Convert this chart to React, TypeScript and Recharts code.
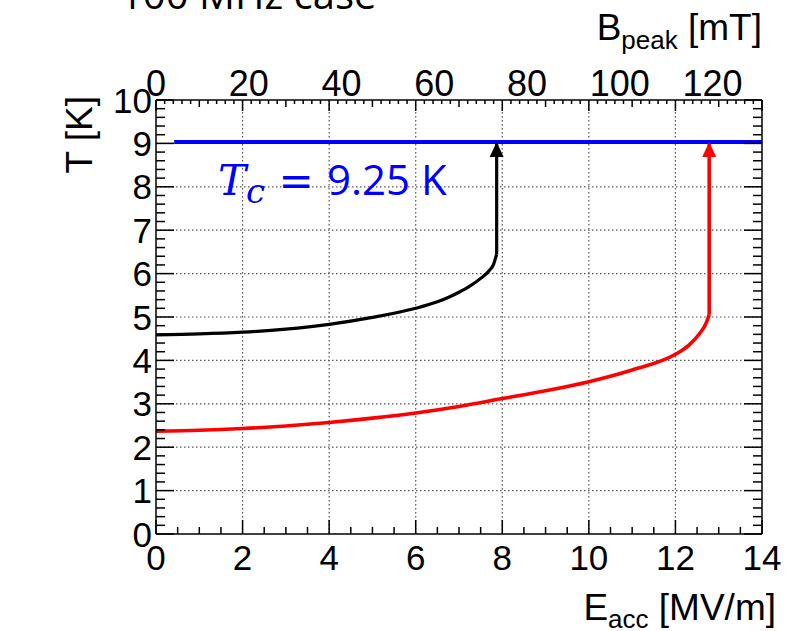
import React from "react";
import { LineChart, Line, XAxis, YAxis, CartesianGrid } from "recharts";

// ---- data ----
const blackE = [0, 1, 2, 3, 4, 5, 6, 6.5, 6.75, 7, 7.25, 7.5, 7.7, 7.8, 7.87];
const blackT = [4.59, 4.61, 4.65, 4.72, 4.83, 4.99, 5.2, 5.35, 5.45, 5.57, 5.71, 5.89, 6.07, 6.22, 6.45];
const blackArrowE = [7.87, 7.87];
const blackArrowT = [6.45, 9.03];

const redE = [0, 1, 2, 3, 4, 5, 6, 7, 8, 9, 10, 11, 12, 12.3, 12.56, 12.7, 12.78];
const redT = [2.37, 2.39, 2.43, 2.49, 2.57, 2.67, 2.79, 2.94, 3.12, 3.3, 3.51, 3.78, 4.14, 4.34, 4.62, 4.84, 5.05];
const redArrowE = [12.78, 12.78];
const redArrowT = [5.05, 9.03];

const tcE = [0.42, 14];
const tcT = [9.03, 9.03];

const bRange = [0, 140];

const eMajorTicks = [0, 2, 4, 6, 8, 10, 12, 14];
const bMajorTicks = [0, 20, 40, 60, 80, 100, 120];
const tMajorTicks = [0, 1, 2, 3, 4, 5, 6, 7, 8, 9, 10];
const gridE = [2, 4, 6, 8, 10, 12];
const gridT = [1, 2, 3, 4, 5, 6, 7, 8, 9];

const eTicks: number[] = [];
for (let i = 0; i <= 28; i++) eTicks.push(i / 2);
const bTicks: number[] = [];
for (let i = 0; i <= 70; i++) bTicks.push(i * 2);
const tTicks: number[] = [];
for (let i = 0; i <= 50; i++) tTicks.push(Math.round(i * 2) / 10);

const zip = (xs: number[], ys: number[]) => xs.map((E, i) => ({ E, T: ys[i] }));
const blackData = zip(blackE, blackT);
const blackArrow = zip(blackArrowE, blackArrowT);
const redData = zip(redE, redT);
const redArrow = zip(redArrowE, redArrowT);
const tcData = zip(tcE, tcT);
const bAxisData = bRange.map((B) => ({ B, T: 0 }));

// ---- layout ----
const W = 803;
const H = 631;
const PL = 156;
const PR = 762;
const PT = 100;
const PB = 534;
const FONT = "'Liberation Sans', Arial, sans-serif";
const TICK_FS = 35;

const near = (a: number, b: number) => Math.abs(a - b) < 1e-6;
const isIn = (v: number, arr: number[]) => arr.some((a) => near(a, v));

const BottomTick = (props: any) => {
  const { x, payload } = props;
  const v = payload.value;
  const major = isIn(v, eMajorTicks);
  const len = major ? 14 : 7;
  return (
    <g>
      <line x1={x} x2={x} y1={PB} y2={PB - len} stroke="#000" strokeWidth={1.5} />
      {major && (
        <text x={x} y={PB + 36} textAnchor="middle" fontSize={TICK_FS} fontFamily={FONT} fill="#000">
          {v}
        </text>
      )}
    </g>
  );
};

const TopTick = (props: any) => {
  const { x, payload } = props;
  const v = payload.value;
  const major = isIn(v, bMajorTicks) || near(v, 140);
  const mid = !major && near(v % 10, 0);
  const len = major ? 11 : mid ? 7 : 4;
  return (
    <g>
      <line x1={x} x2={x} y1={PT} y2={PT + len} stroke="#000" strokeWidth={1.5} />
      {isIn(v, bMajorTicks) && (
        <text x={x + v * 0.31} y={PT - 4} textAnchor="middle" fontSize={TICK_FS + 1} fontFamily={FONT} fill="#000">
          {v}
        </text>
      )}
    </g>
  );
};

const LeftTick = (props: any) => {
  const { y, payload } = props;
  const v = payload.value;
  const major = isIn(v, tMajorTicks);
  const len = major ? 18 : 9;
  return (
    <g>
      <line x1={PL} x2={PL + len} y1={y} y2={y} stroke="#000" strokeWidth={1.5} />
      {major && (
        <text x={PL - 4} y={y} dy="0.36em" textAnchor="end" fontSize={TICK_FS} fontFamily={FONT} fill="#000">
          {v}
        </text>
      )}
    </g>
  );
};

const RightTick = (props: any) => {
  const { y, payload } = props;
  const v = payload.value;
  const major = isIn(v, tMajorTicks);
  const len = major ? 18 : 9;
  return <line x1={PR} x2={PR - len} y1={y} y2={y} stroke="#000" strokeWidth={1.5} />;
};

const arrowDot = (color: string) => (props: any) => {
  const { cx, cy, index } = props;
  if (index !== 1 || cx == null || cy == null) return <g key={`d${index}`} />;
  return (
    <polygon
      key={`d${index}`}
      points={`${cx},${cy} ${cx - 7},${cy + 15} ${cx + 7},${cy + 15}`}
      fill={color}
      stroke="none"
    />
  );
};

export default function App() {
  return (
    <div style={{ position: "absolute", left: 0, top: 0, width: W, height: H, background: "#fff" }}>
      <LineChart width={W} height={H} margin={{ top: PT - 40, right: W - PR - 1, bottom: H - PB - 40, left: PL - 60 }}>
        <CartesianGrid
          xAxisId="bottom"
          yAxisId="left"
          verticalValues={gridE}
          horizontalValues={gridT}
          stroke="#555"
          strokeDasharray="1.5 2.5"
          strokeWidth={1.2}
        />
        <XAxis
          xAxisId="bottom"
          type="number"
          dataKey="E"
          domain={[0, 14]}
          allowDataOverflow
          ticks={eTicks}
          interval={0}
          height={40}
          tickLine={false}
          tick={<BottomTick />}
          axisLine={{ stroke: "#000", strokeWidth: 1.5 }}
        />
        <XAxis
          xAxisId="top"
          orientation="top"
          type="number"
          dataKey="B"
          domain={[0, 140]}
          allowDataOverflow
          ticks={bTicks}
          interval={0}
          height={40}
          tickLine={false}
          tick={<TopTick />}
          axisLine={{ stroke: "#000", strokeWidth: 1.5 }}
        />
        <YAxis
          yAxisId="left"
          type="number"
          domain={[0, 10]}
          allowDataOverflow
          ticks={tTicks}
          interval={0}
          width={60}
          tickLine={false}
          tick={<LeftTick />}
          axisLine={{ stroke: "#000", strokeWidth: 1.5 }}
        />
        <YAxis
          yAxisId="right"
          orientation="right"
          type="number"
          domain={[0, 10]}
          allowDataOverflow
          ticks={tTicks}
          interval={0}
          width={1}
          tickLine={false}
          tick={<RightTick />}
          axisLine={{ stroke: "#000", strokeWidth: 1.5 }}
        />
        <Line xAxisId="top" yAxisId="right" data={bAxisData} dataKey="T" stroke="none" strokeWidth={0} dot={false} activeDot={false} isAnimationActive={false} />
        <Line xAxisId="bottom" yAxisId="left" data={blackData} dataKey="T" type="monotone" stroke="#000" strokeWidth={3.2} dot={false} isAnimationActive={false} />
        <Line xAxisId="bottom" yAxisId="left" data={blackArrow} dataKey="T" type="linear" stroke="#000" strokeWidth={3.2} dot={arrowDot("#000")} isAnimationActive={false} />
        <Line xAxisId="bottom" yAxisId="left" data={redData} dataKey="T" type="monotone" stroke="#ff0000" strokeWidth={3.6} dot={false} isAnimationActive={false} />
        <Line xAxisId="bottom" yAxisId="left" data={redArrow} dataKey="T" type="linear" stroke="#ff0000" strokeWidth={3.6} dot={arrowDot("#ff0000")} isAnimationActive={false} />
        <Line xAxisId="bottom" yAxisId="left" data={tcData} dataKey="T" type="linear" stroke="#0000ff" strokeWidth={4} dot={false} isAnimationActive={false} />
      </LineChart>
      <svg width={W} height={H} style={{ position: "absolute", left: 0, top: 0, pointerEvents: "none" }}>
        <text x={120} y={9} fontSize={40} fontFamily="'Open Sans', sans-serif" fill="#000">
          100 MHz case
        </text>
        <text x={762} y={40} textAnchor="end" fontSize={37} fontFamily={FONT} fill="#000">
          B
          <tspan fontSize={26} dy={9}>peak</tspan>
          <tspan dy={-9}> [mT]</tspan>
        </text>
        <text x={776} y={620} textAnchor="end" fontSize={37} fontFamily={FONT} fill="#000">
          E
          <tspan fontSize={26} dy={8}>acc</tspan>
          <tspan dy={-8}> [MV/m]</tspan>
        </text>
        <text
          x={92}
          y={96}
          textAnchor="end"
          transform="rotate(-90 92 96)"
          fontSize={37}
          fontFamily={FONT}
          fill="#000"
        >
          T [K]
        </text>
        <text x={218} y={195} fontSize={42} fill="#0000ff" fontFamily="'Open Sans', sans-serif">
          <tspan fontFamily="'DejaVu Serif', serif" fontStyle="italic">T</tspan>
          <tspan fontFamily="'DejaVu Serif', serif" fontStyle="italic" fontSize={34} dy={8}>c</tspan>
          <tspan dy={-8} fontFamily="'DejaVu Sans', sans-serif"> = </tspan>
          <tspan>9.25 K</tspan>
        </text>
      </svg>
    </div>
  );
}
